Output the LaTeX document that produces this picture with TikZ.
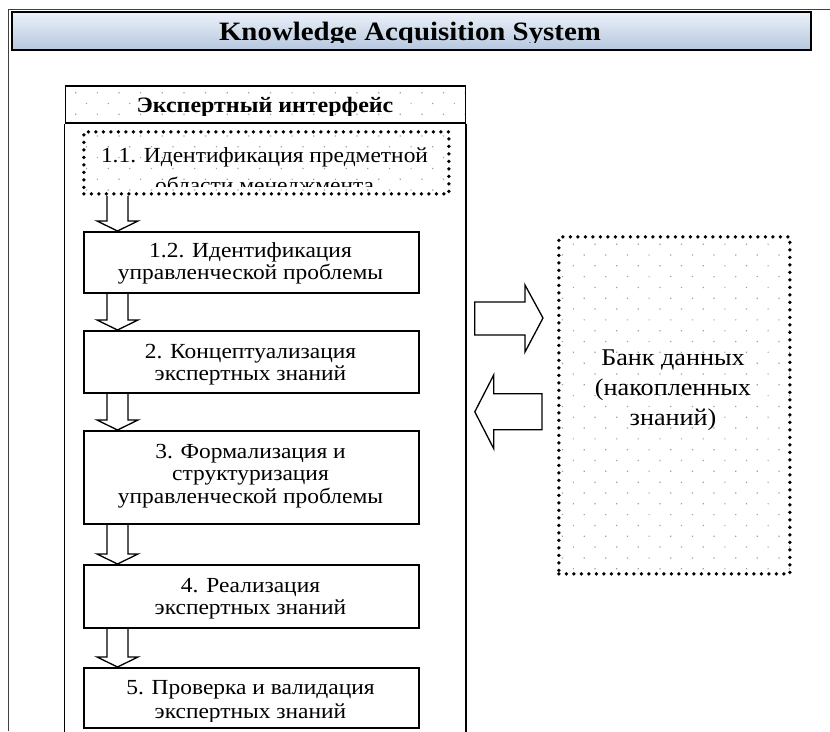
\documentclass[tikz,border=0pt]{standalone}
\usepackage{fontspec}
\setmainfont{Liberation Serif}[FakeStretch=1.09]
\usetikzlibrary{calc,patterns.meta}
\definecolor{hdrtop}{HTML}{EBF1F9}
\definecolor{hdrbot}{HTML}{B6C7DE}
\definecolor{dotgray}{HTML}{A0A0A0}
\definecolor{framegray}{HTML}{404040}
\newcommand{\myDownArrow}[2]{%
  \coordinate (tip) at ($(#2.north west)+(34.5,0)$);
  \coordinate (src) at (tip |- #1.south);
  \draw[blockarrow] ($(src)+(-10.5,0)$) -- ($(tip)+(-10.5,-10)$) -- ($(tip)+(-20.5,-10)$)
     -- (tip) -- ($(tip)+(20.5,-10)$) -- ($(tip)+(10.5,-10)$) -- ($(src)+(10.5,0)$);
}
\begin{document}
\begin{tikzpicture}[x=1pt,y=-1pt,
  frameline/.style={line width=1.8pt, draw=black},
  stepbox/.style={draw=black, line width=1.8pt, rectangle, inner sep=0pt, anchor=north west},
  dotfill/.style={pattern={Dots[distance=15.3pt, radius=0.85pt, angle=45]}, pattern color=dotgray},
  dotborder/.style={draw=black, line width=3.8pt, line cap=round, dash pattern=on 0pt off 7.5pt},
  linetext/.style={font=\fontsize{21.5}{22.5}\selectfont, anchor=base, inner sep=0pt},
  banktext/.style={font=\fontsize{24}{30}\selectfont, anchor=base, inner sep=0pt},
  blockarrow/.style={draw=black, line width=1.3pt, fill=white, line join=miter},
]
\useasboundingbox (0,0) rectangle (830,731);

% outer frame
\coordinate (otop) at (8.5,9.3);
\draw[line width=1.6pt, draw=framegray] (8.5,731) -- (otop) -- (830,9.3);

% header bar
\node[draw=black, line width=2pt, top color=hdrtop, bottom color=hdrbot,
      minimum width=799.5pt, minimum height=38pt, anchor=north west, inner sep=0pt] (kas) at (10.5,11) {};
\begin{scope}
  \clip (11,12) rectangle (809,42.5);
  \node[font=\fontsize{26.5}{30}\selectfont\bfseries, anchor=base, inner sep=0pt] (kastext) at (410,40) {Knowledge Acquisition System};
\end{scope}

% expert interface frame
\node[draw=black, line width=1.8pt, dotfill, minimum width=400pt, minimum height=37pt,
      anchor=north west, inner sep=0pt] (ifhead) at (64.5,85) {};
\coordinate (bottom) at (0,732);
\draw[frameline] (ifhead.south west) -- (ifhead.south west |- bottom);
\draw[frameline] (ifhead.south east) -- (ifhead.south east |- bottom);
\begin{scope}
  \clip (65.5,86) rectangle (463.5,115.5);
  \node[font=\fontsize{22}{24}\selectfont\bfseries, anchor=base, inner sep=0pt] (iftext) at (265,112) {Экспертный интерфейс};
\end{scope}

% box 1.1 (dotted)
\node[dotborder, dotfill, minimum width=365pt, minimum height=62pt, anchor=north west, inner sep=0pt] (b11) at (82,130) {};
\begin{scope}
  \clip (84,132) rectangle (445,186);
  \node[linetext] (b11a) at (264.5,162) {1.1. Идентификация предметной};
  \node[linetext] (b11b) at (264.5,192) {области менеджмента};
\end{scope}

% arrows between steps (drawn under the boxes)
\coordinate (b12nw) at (83,231);
\node[stepbox, minimum width=335pt, minimum height=61pt] (b12) at (b12nw) {};
\node[stepbox, minimum width=335pt, minimum height=62pt] (b2) at (83,330) {};
\node[stepbox, minimum width=335pt, minimum height=93pt] (b3) at (83,430) {};
\node[stepbox, minimum width=335pt, minimum height=63pt] (b4) at (83,564) {};
\node[stepbox, minimum width=335pt, minimum height=60pt] (b5) at (83,667) {};
\myDownArrow{b11}{b12}
\myDownArrow{b12}{b2}
\myDownArrow{b2}{b3}
\myDownArrow{b3}{b4}
\myDownArrow{b4}{b5}

% box borders over arrows, with text
\node[stepbox, minimum width=335pt, minimum height=61pt] at (83,231) {};
\node[linetext] (t12a) at (250.5,257) {1.2. Идентификация};
\node[linetext] (t12b) at (250.5,279.5) {управленческой проблемы};
\node[stepbox, minimum width=335pt, minimum height=62pt] at (83,330) {};
\node[linetext] (t2a) at (250.5,358) {2. Концептуализация};
\node[linetext] (t2b) at (250.5,380.5) {экспертных знаний};
\node[stepbox, minimum width=335pt, minimum height=93pt] at (83,430) {};
\node[linetext] (t3a) at (250.5,458) {3. Формализация и};
\node[linetext] (t3b) at (250.5,480.5) {структуризация};
\node[linetext] (t3c) at (250.5,503) {управленческой проблемы};
\node[stepbox, minimum width=335pt, minimum height=63pt] at (83,564) {};
\node[linetext] (t4a) at (250.5,592) {4. Реализация};
\node[linetext] (t4b) at (250.5,614) {экспертных знаний};
\node[stepbox, minimum width=335pt, minimum height=60pt] at (83,667) {};
\begin{scope}
  \clip (84,668) rectangle (417,721);
  \node[linetext] (t5a) at (250.5,694) {5. Проверка и валидация};
  \node[linetext] (t5b) at (250.5,718) {экспертных знаний};
\end{scope}

% data bank
\node[dotborder, dotfill, minimum width=231pt, minimum height=337pt, anchor=north west, inner sep=0pt] (bank) at (557,235) {};
\node[banktext] (bk1) at (673,365) {Банк данных};
\node[banktext] (bk2) at (673,395) {(накопленных};
\node[banktext] (bk3) at (673,425) {знаний)};

% arrow to bank
\coordinate (rtip) at ($(bank.north west)+(-14,83)$);
\coordinate (rtail) at ($(ifhead.south east |- rtip)+(8.5,0)$);
\draw[blockarrow] ($(rtail)+(0,-16)$) -- ($(rtip)+(-18,-16)$) -- ($(rtip)+(-18,-33)$) -- (rtip)
   -- ($(rtip)+(-18,34)$) -- ($(rtip)+(-18,17)$) -- ($(rtail)+(0,17)$) -- cycle;

% arrow from bank
\coordinate (ltip) at ($(ifhead.south east)+(8.5,288)$);
\coordinate (ltail) at ($(bank.north west |- ltip)+(-15,0)$);
\draw[blockarrow] ($(ltail)+(0,-18)$) -- ($(ltip)+(19,-18)$) -- ($(ltip)+(19,-37)$) -- (ltip)
   -- ($(ltip)+(19,37)$) -- ($(ltip)+(19,18)$) -- ($(ltail)+(0,18)$) -- cycle;
\end{tikzpicture}
\end{document}
